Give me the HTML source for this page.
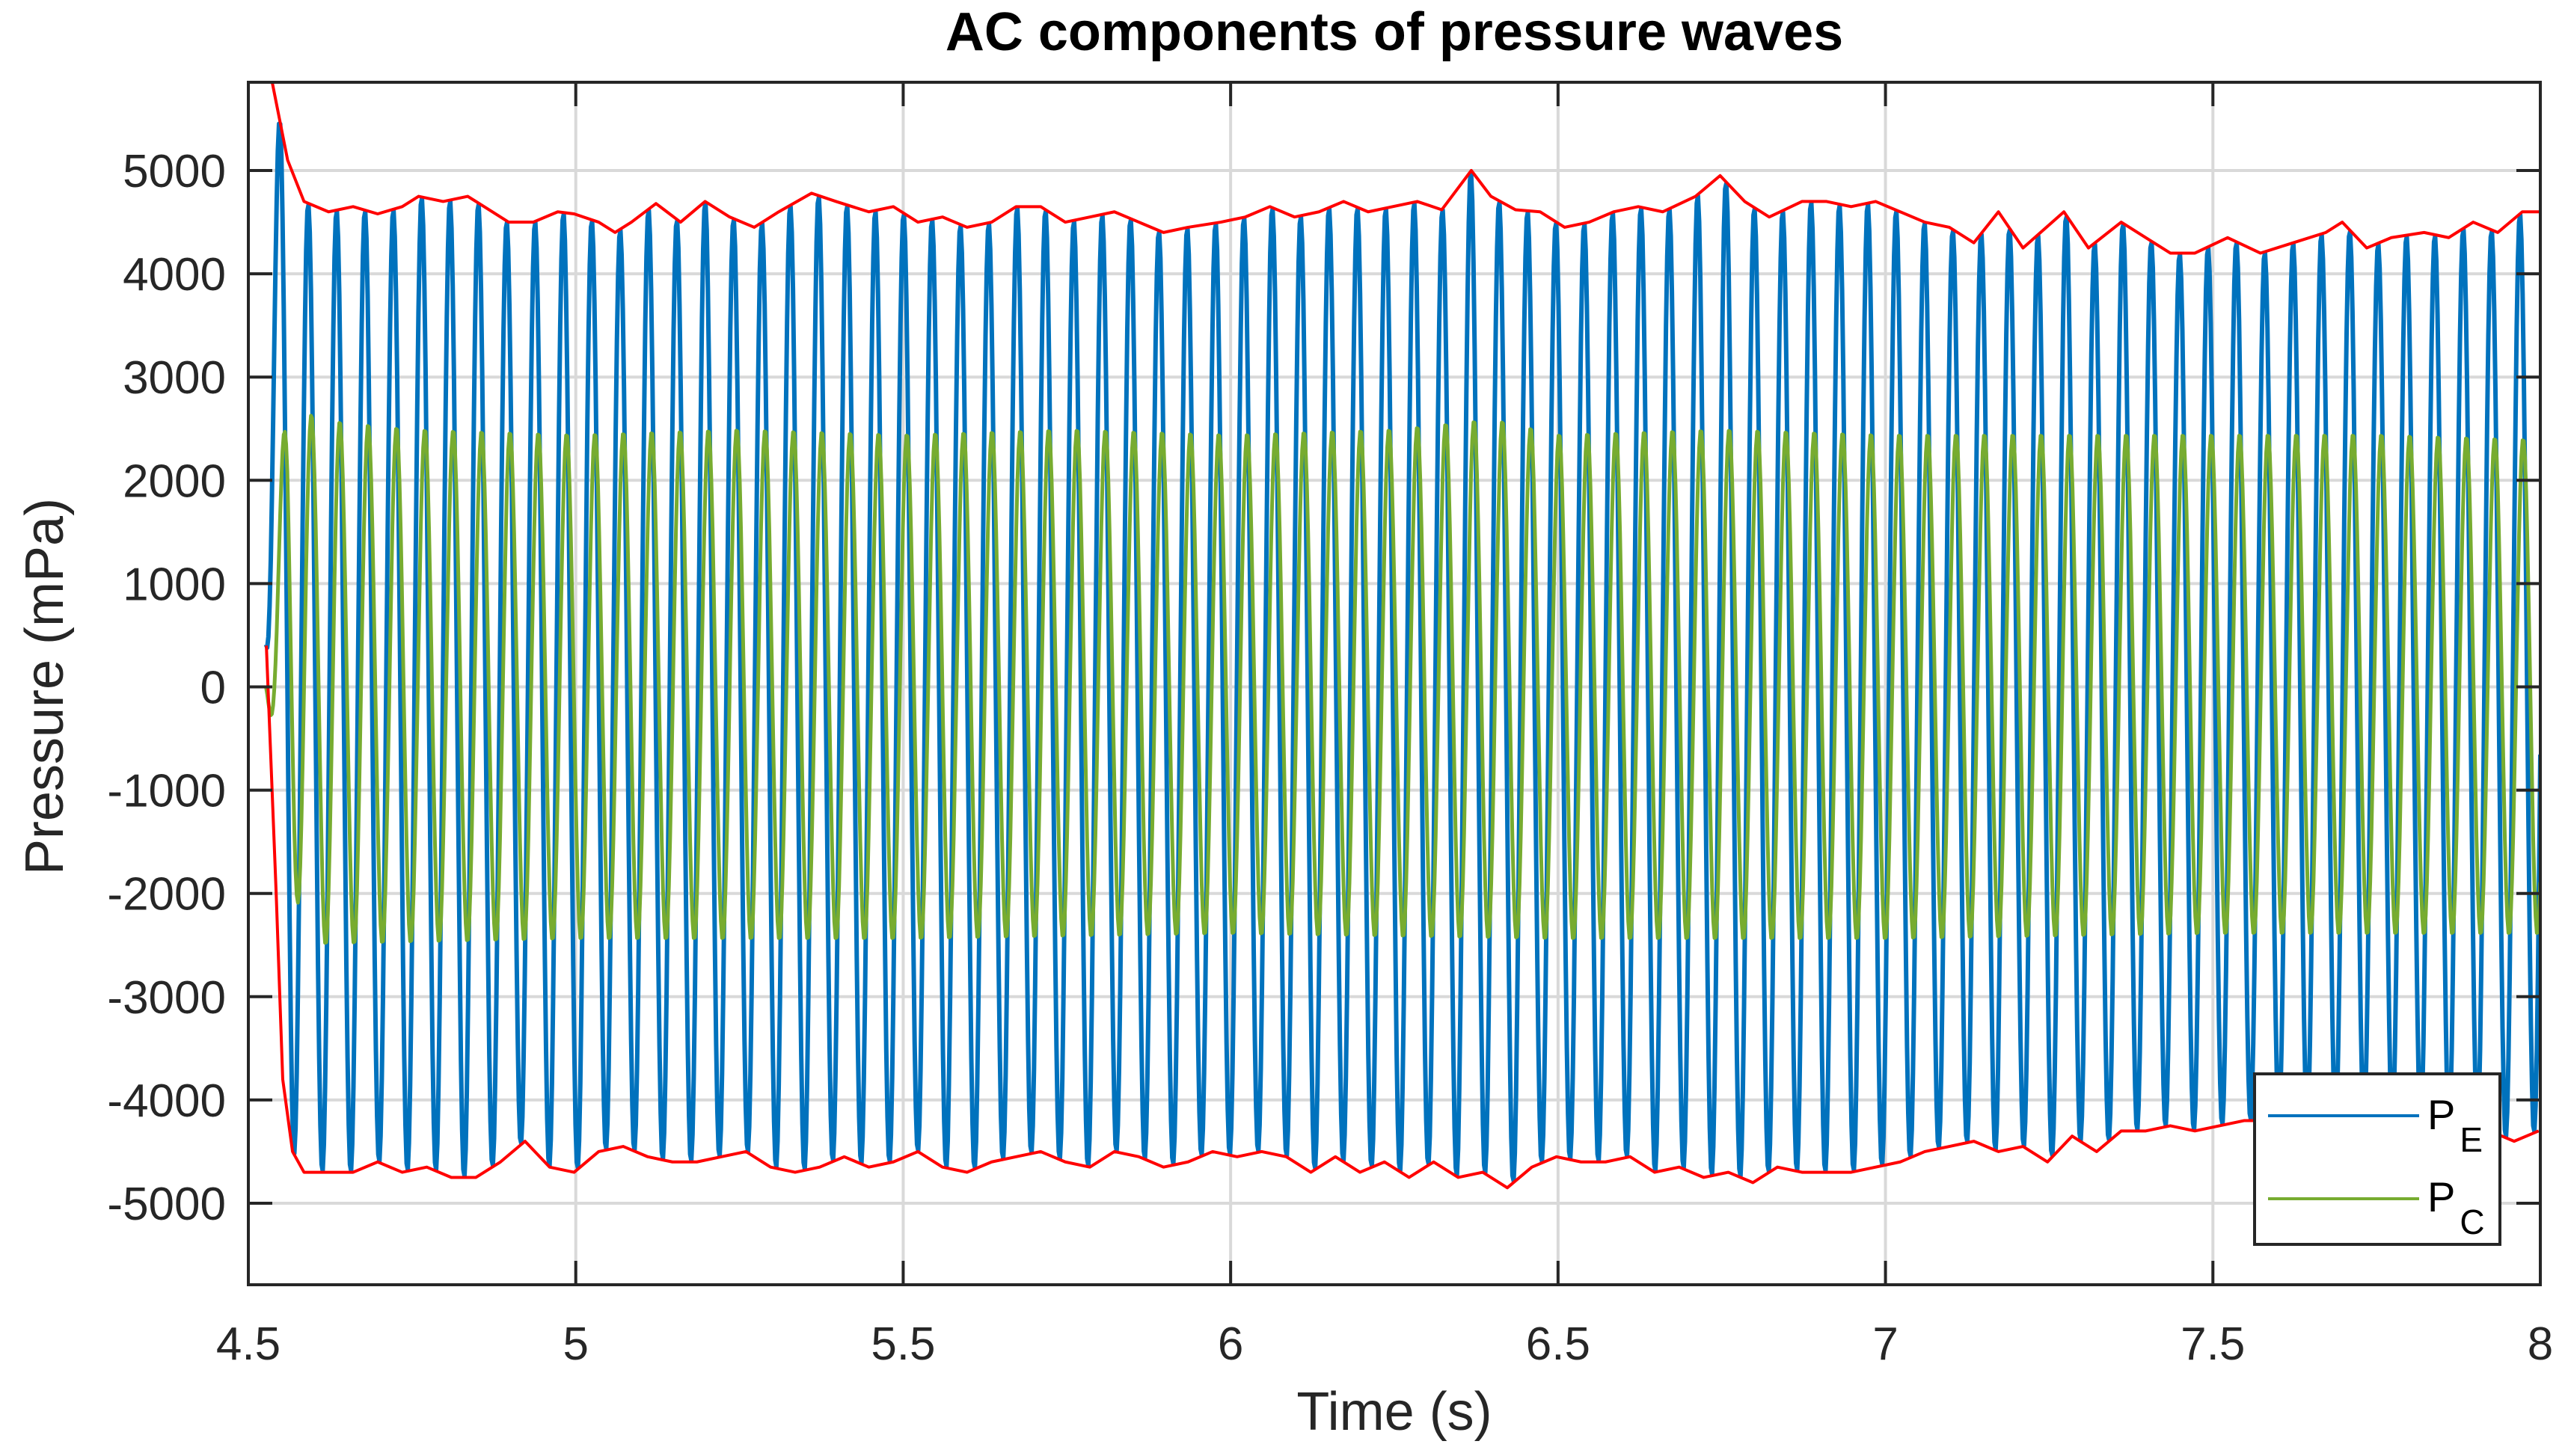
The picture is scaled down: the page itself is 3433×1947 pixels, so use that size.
<!DOCTYPE html>
<html><head><meta charset="utf-8">
<style>
html,body{margin:0;padding:0;background:#fff;}
svg{display:block;font-family:"Liberation Sans",Arial,sans-serif;}
</style></head>
<body>
<svg id="chart" width="3433" height="1947" viewBox="0 0 3433 1947" xmlns="http://www.w3.org/2000/svg">
<defs><clipPath id="plotclip"><rect x="332" y="110" width="3064" height="1608"/></clipPath></defs>
<rect x="0" y="0" width="3433" height="1947" fill="#fff"/>
<rect x="332" y="110" width="3064" height="1608" fill="#fff"/>
<g id="grid"></g>
<g id="series" clip-path="url(#plotclip)"></g>
<g id="axes"></g>
<text x="1864" y="67" text-anchor="middle" font-size="72" font-weight="bold" fill="#000">AC components of pressure waves</text>
<text x="1864" y="1912" text-anchor="middle" font-size="72" fill="#262626">Time (s)</text>
<text transform="translate(84,918) rotate(-90)" text-anchor="middle" font-size="72" fill="#262626">Pressure (mPa)</text>
<g>
<rect x="3014" y="1436" width="328" height="228" fill="#fff" stroke="#262626" stroke-width="4"/>
<line x1="3032" y1="1492" x2="3234" y2="1492" stroke="#0072BD" stroke-width="4"/>
<text x="3245" y="1510" font-size="56" fill="#000">P<tspan font-size="46" dx="6" dy="30">E</tspan></text>
<line x1="3032" y1="1603" x2="3234" y2="1603" stroke="#77AC30" stroke-width="4"/>
<text x="3245" y="1620" font-size="56" fill="#000">P<tspan font-size="46" dx="6" dy="30">C</tspan></text>
</g>
</svg>
<script>
// ---- data ----
const xTicks = [4.5, 5, 5.5, 6, 6.5, 7, 7.5, 8];
const xTickLabels = ["4.5", "5", "5.5", "6", "6.5", "7", "7.5", "8"];
const yTicks = [-5000, -4000, -3000, -2000, -1000, 0, 1000, 2000, 3000, 4000, 5000];
const yTickLabels = ["-5000", "-4000", "-3000", "-2000", "-1000", "0", "1000", "2000", "3000", "4000", "5000"];
const upperT = [4.527,4.535,4.56,4.585,4.6225,4.66,4.6975,4.735,4.76,4.7975,4.835,4.8725,4.8975,4.935,4.9725,4.9975,5.035,5.06,5.085,5.1225,5.16,5.1975,5.235,5.2725,5.31,5.36,5.3975,5.4475,5.485,5.5225,5.56,5.5975,5.635,5.6725,5.71,5.7475,5.785,5.8225,5.86,5.8975,5.935,5.985,6.0225,6.06,6.0975,6.135,6.1725,6.21,6.2475,6.285,6.3225,6.3675,6.3975,6.435,6.4725,6.51,6.5475,6.585,6.6225,6.66,6.71,6.7475,6.785,6.8225,6.8725,6.91,6.9475,6.985,7.0225,7.06,7.0975,7.135,7.1725,7.21,7.2725,7.31,7.36,7.3975,7.435,7.4725,7.5225,7.5725,7.6225,7.6725,7.6975,7.735,7.7725,7.8225,7.86,7.8975,7.935,7.9725,8.0];
const upperV = [7000,5900,5100,4700,4600,4650,4580,4650,4750,4700,4750,4600,4500,4500,4600,4580,4500,4400,4500,4680,4500,4700,4550,4450,4600,4780,4700,4600,4650,4500,4550,4450,4500,4650,4650,4500,4550,4600,4500,4400,4450,4500,4550,4650,4550,4600,4700,4600,4650,4700,4620,5000,4750,4620,4600,4450,4500,4600,4650,4600,4750,4950,4700,4550,4700,4700,4650,4700,4600,4500,4450,4300,4600,4250,4600,4250,4500,4350,4200,4200,4350,4200,4300,4400,4500,4250,4350,4400,4350,4500,4400,4600,4600];
const lowerT = [4.5275,4.5425,4.5525,4.5675,4.585,4.6225,4.66,4.6975,4.735,4.7725,4.81,4.8475,4.885,4.9225,4.96,4.9975,5.035,5.0725,5.11,5.1475,5.185,5.2225,5.26,5.2975,5.335,5.3725,5.41,5.4475,5.485,5.5225,5.56,5.5975,5.635,5.6725,5.71,5.7475,5.785,5.8225,5.86,5.8975,5.935,5.9725,6.01,6.0475,6.085,6.1225,6.16,6.1975,6.235,6.2725,6.31,6.3475,6.385,6.4225,6.46,6.4975,6.535,6.5725,6.61,6.6475,6.685,6.7225,6.76,6.7975,6.835,6.8725,6.91,6.9475,6.985,7.0225,7.06,7.0975,7.135,7.1725,7.21,7.2475,7.285,7.3225,7.36,7.3975,7.435,7.4725,7.51,7.5475,7.585,7.6225,7.66,7.6975,7.735,7.7725,7.81,7.8475,7.885,7.9225,7.96,7.9975];
const lowerV = [400,-2000,-3800,-4500,-4700,-4700,-4700,-4600,-4700,-4650,-4750,-4750,-4600,-4400,-4650,-4700,-4500,-4450,-4550,-4600,-4600,-4550,-4500,-4650,-4700,-4650,-4550,-4650,-4600,-4500,-4650,-4700,-4600,-4550,-4500,-4600,-4650,-4500,-4550,-4650,-4600,-4500,-4550,-4500,-4550,-4700,-4550,-4700,-4600,-4750,-4600,-4750,-4700,-4850,-4650,-4550,-4600,-4600,-4550,-4700,-4650,-4750,-4700,-4800,-4650,-4700,-4700,-4700,-4650,-4600,-4500,-4450,-4400,-4500,-4450,-4600,-4350,-4500,-4300,-4300,-4250,-4300,-4250,-4200,-4200,-4250,-4200,-4250,-4200,-4250,-4200,-4300,-4250,-4300,-4400,-4300];
const greenUpT = [4.527,4.56,4.6,4.75,5.0,5.25,5.5,5.75,6.0,6.25,6.4,6.5,6.75,7.0,7.25,7.5,7.75,8.0];
const greenUpV = [0,3000,2600,2500,2450,2500,2450,2500,2450,2500,2600,2450,2500,2450,2450,2450,2450,2400];
const greenLoT = [4.527,4.58,4.6,5.0,5.5,6.0,6.5,7.0,7.5,8.0];
const greenLoV = [0,-2300,-2500,-2450,-2450,-2400,-2450,-2450,-2400,-2400];
const peakRefTime = 5.977;   // time of a P_E crest
const cyclePeriod = 0.0433;  // s
const greenLag = 0.005;      // s
const startTime = 4.527;

// ---- axes ----
const X0 = 332, X1 = 3396, Y0 = 110, Y1 = 1718;
const xMin = 4.5, xMax = 8, yZero = 918.5, pxPer1000 = 138.1;
const sx = t => X0 + (t - xMin) / (xMax - xMin) * (X1 - X0);
const sy = v => yZero - v / 1000 * pxPer1000;
const NS = "http://www.w3.org/2000/svg";
function mk(tag, attrs, parent) {
  const e = document.createElementNS(NS, tag);
  for (const k in attrs) e.setAttribute(k, attrs[k]);
  parent.appendChild(e);
  return e;
}
function interp(T, V, t) {
  if (t <= T[0]) return V[0];
  for (let i = 1; i < T.length; i++) {
    if (t <= T[i]) { const f = (t - T[i-1]) / (T[i] - T[i-1]); return V[i-1] + f * (V[i] - V[i-1]); }
  }
  return V[V.length - 1];
}
const grid = document.getElementById('grid');
const axes = document.getElementById('axes');
const series = document.getElementById('series');

xTicks.forEach((t, i) => {
  const x = sx(t);
  const g = mk('line', {x1: x, y1: Y0, x2: x, y2: Y1, stroke: '#d9d9d9', 'stroke-width': 4}, grid);
  
  
  const tk = mk('line', {x1: x, y1: Y1, x2: x, y2: Y1 - 32, stroke: '#262626', 'stroke-width': 4}, axes);
  
  
  const tk2 = mk('line', {x1: x, y1: Y0, x2: x, y2: Y0 + 32, stroke: '#262626', 'stroke-width': 4}, axes);
  
  
  const lb = mk('text', {x: x, y: 1818, 'text-anchor': 'middle', 'font-size': 62, fill: '#262626'}, axes);
  lb.textContent = xTickLabels[i];
  
  
});
yTicks.forEach((v, i) => {
  const y = sy(v);
  const g = mk('line', {x1: X0, y1: y, x2: X1, y2: y, stroke: '#d9d9d9', 'stroke-width': 4}, grid);
  
  
  const tk = mk('line', {x1: X0, y1: y, x2: X0 + 32, y2: y, stroke: '#262626', 'stroke-width': 4}, axes);
  
  
  const tk2 = mk('line', {x1: X1, y1: y, x2: X1 - 32, y2: y, stroke: '#262626', 'stroke-width': 4}, axes);
  
  
  const lb = mk('text', {x: 302, y: y + 22, 'text-anchor': 'end', 'font-size': 62, fill: '#262626'}, axes);
  lb.textContent = yTickLabels[i];
  
  
});
const frame = mk('rect', {x: X0, y: Y0, width: X1 - X0, height: Y1 - Y0, fill: 'none', stroke: '#262626', 'stroke-width': 4}, axes);



// ---- series ----
function wave(UT, UV, LT, LV, lag) {
  const pts = [];
  const steps = 24;
  const dt = cyclePeriod / steps;
  for (let t = startTime; t <= xMax + dt; t += dt) {
    const c = Math.cos(2 * Math.PI * (t - peakRefTime - lag) / cyclePeriod);
    const up = interp(UT, UV, t), lo = interp(LT, LV, t);
    const mid = (up + lo) / 2, amp = (up - lo) / 2;
    pts.push(sx(t).toFixed(1) + ',' + sy(mid + amp * c).toFixed(1));
  }
  return pts.join(' ');
}
const pe = mk('polyline', {points: wave(upperT, upperV, lowerT, lowerV, 0), fill: 'none', stroke: '#0072BD', 'stroke-width': 6, 'stroke-linejoin': 'round'}, series);


const pc = mk('polyline', {points: wave(greenUpT, greenUpV, greenLoT, greenLoV, greenLag), fill: 'none', stroke: '#77AC30', 'stroke-width': 5, 'stroke-linejoin': 'round'}, series);


const up = mk('polyline', {points: upperT.map((t, i) => sx(t) + ',' + sy(upperV[i])).join(' '), fill: 'none', stroke: '#FF0000', 'stroke-width': 4, 'stroke-linejoin': 'round'}, series);


const lo = mk('polyline', {points: lowerT.map((t, i) => sx(t) + ',' + sy(lowerV[i])).join(' '), fill: 'none', stroke: '#FF0000', 'stroke-width': 4, 'stroke-linejoin': 'round'}, series);


</script>
</body></html>
